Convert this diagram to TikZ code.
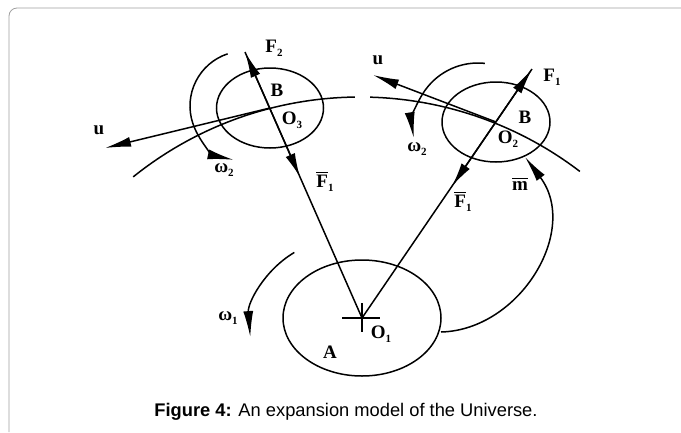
\documentclass[tikz,border=0pt]{standalone}
\usepackage{amsmath, amssymb}
\usepackage{fontspec}
\newfontfamily\capfont{Liberation Sans}
\newfontfamily\lblfont{Liberation Serif}
\usepackage{tikz}
\usetikzlibrary{arrows.meta,calc}
\definecolor{framegray}{rgb}{0.62,0.62,0.62}
\newcommand{\lsub}[1]{\raisebox{-0.45ex}{\fontsize{11}{12}\selectfont #1}}
\newcommand{\lbar}[1]{$\overline{\mbox{#1}}$}
\tikzset{
  ln/.style={line width=1.5pt},
  bigtip/.style={-{Latex[length=26pt,width=10pt]}},
  midtip/.style={-{Latex[length=24pt,width=10pt]}},
  lbl/.style={font=\lblfont\bfseries\fontsize{19}{22}\selectfont, inner sep=0pt},
}

\begin{document}
\begin{tikzpicture}[x=1pt,y=-1pt]
        \useasboundingbox (0,0) rectangle (681,432);
        \def\R{362}
        \coordinate (o1) at (362,318);
        \coordinate (o2) at (496,122);
        \coordinate (o3) at (270,108);
        \coordinate (f1) at (532,69);
        \coordinate (f2) at (245,52);
        \coordinate (ul) at (105,148);
        \coordinate (ur) at (373,75);
        \coordinate (orb) at (360,459);
        \coordinate (m0) at (441,332);
        \coordinate (m1) at (525,157);
        %Frame
        \draw[framegray, line width=0.8pt, rounded corners=8pt] (681,8) -- (9,8) -- (9,432);
        %Bodies
        \draw[ln] (o1) ellipse [x radius=79, y radius=58];
        \draw[ln] (o2) ellipse [x radius=54, y radius=40];
        \draw[ln] (o3) ellipse [x radius=53.5, y radius=40];
        \draw[ln] ($(o1)+(-20,0)$) -- ($(o1)+(18,0)$);
        \draw[ln] ($(o1)+(0,-15)$) -- ($(o1)+(0,14)$);
        %Orbit
        \draw[ln] (orb) ++(-128.8:\R) arc[start angle=-128.8, end angle=-90.8, radius=\R];
        \draw[ln] (orb) ++(-88.4:\R) arc[start angle=-88.4, end angle=-52.6, radius=\R];
        %Forces
        \draw[ln, bigtip] (o1) -- (f2);
        \draw[ln, bigtip] (o1) -- (f1);
        \draw[ln, midtip] (f2) -- ($(f2)!0.47!(o1)$);
        \draw[ln, midtip] (f1) -- ($(f1)!0.47!(o1)$);
        %Velocities
        \draw[ln, bigtip] (o3) -- (ul);
        \draw[ln, bigtip] (o2) -- (ur);
        \draw[ln, bigtip] (m0) .. controls (520,330) and (580,230) .. (m1);
        %Rotations
        \draw[ln, bigtip] (340,330) ++(-120.5:90) arc[start angle=-120.5, end angle=-184.5, radius=90];
        \draw[ln, bigtip] (245,106) ++(-108.4:55) arc[start angle=-108.4, end angle=-258, radius=55];
        \draw[ln, bigtip] (478,128) ++(-84:65) arc[start angle=-84, end angle=-189, radius=65];
        %Labels
        \node[lbl] (lf2) at (274,48) {F\lsub{2}};
        \node[lbl] (lb3) at (277,90) {B};
        \node[lbl] (lo3) at (292,120) {O\lsub{3}};
        \node[lbl] (lul) at (99,130) {u};
        \node[lbl] (lw2l) at (224,170) {ω\lsub{2}};
        \node[lbl] (lf1l) at (325,181) {\lbar{F}\lsub{1}};
        \node[lbl] (lur) at (378,60) {u};
        \node[lbl] (lf1) at (552,77) {F\lsub{1}};
        \node[lbl] (lb2) at (525,117) {B};
        \node[lbl] (lo2) at (508,139) {O\lsub{2}};
        \node[lbl] (lw2r) at (417,149) {ω\lsub{2}};
        \node[lbl] (lf1r) at (463,201) {\lbar{F}\lsub{1}};
        \node[lbl] (lm) at (520,184) {\lbar{m}};
        \node[lbl] (lw1) at (228,318) {ω\lsub{1}};
        \node[lbl] (lo1) at (381,334) {O\lsub{1}};
        \node[lbl] (la) at (330,352) {A};
        %Caption
        \node[font=\capfont\fontsize{18.3}{21}\selectfont, anchor=base, inner sep=0pt] (cap) at (346,416) {\textbf{Figure 4:} An expansion model of the Universe.};
      \end{tikzpicture}
\end{document}
